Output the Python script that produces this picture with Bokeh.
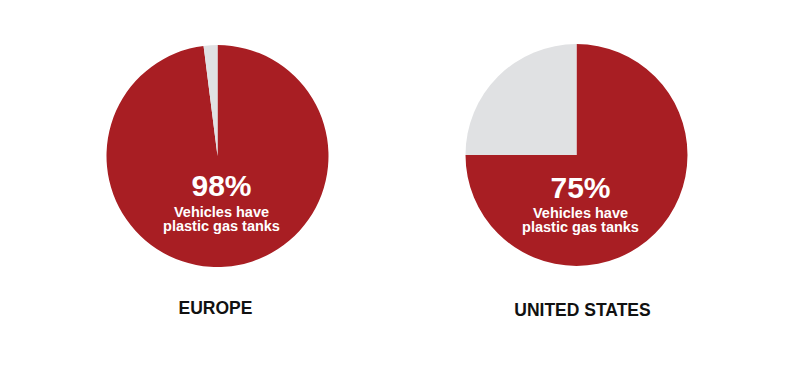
import numpy as np
from bokeh.plotting import figure
from bokeh.models import ColumnDataSource, Range1d
from bokeh.core.properties import value
from bokeh.embed import file_html
from bokeh.resources import INLINE

# Share of vehicles with plastic gas tanks, by region
regions = ["EUROPE", "UNITED STATES"]
plastic_share = [98, 75]
pct_labels = ["98%", "75%"]
caption_line1 = ["Vehicles have", "Vehicles have"]
caption_line2 = ["plastic gas tanks", "plastic gas tanks"]

RED = "#A81E23"
GREY = "#E0E1E3"
FONT = value("Liberation Sans")

W, H = 808, 368

# layout (pixel positions, y measured from the top of the page)
pie_cx = [217, 576]
pie_cy = [155.5, 154.5]
pie_r = 111
pct_base = [185, 187]
line1_base = [211, 212]
line2_base = [225, 226]
text_dx = [4, 4]
label_cx = [215, 582]
label_base = [307, 309]

share = np.array(plastic_share) / 100.0
top = np.pi / 2
src = ColumnDataSource(dict(
    x=pie_cx,
    y=[H - v for v in pie_cy],
    red_start=top - share * 2 * np.pi,
    red_end=np.full(len(share), top),
    grey_end=top + (1 - share) * 2 * np.pi,
    tx=[c + d for c, d in zip(pie_cx, text_dx)],
    pct_y=[H - v for v in pct_base],
    l1_y=[H - v for v in line1_base],
    l2_y=[H - v for v in line2_base],
    pct=pct_labels,
    l1=caption_line1,
    l2=caption_line2,
    lx=label_cx,
    ly=[H - v for v in label_base],
    region=regions,
))

p = figure(width=W, height=H, x_range=Range1d(0, W), y_range=Range1d(0, H),
           x_axis_type=None, y_axis_type=None, output_backend="svg",
           toolbar_location=None, min_border=0)
p.outline_line_color = None
p.grid.visible = False
p.background_fill_color = "white"
p.border_fill_color = "white"

p.wedge(x="x", y="y", radius=pie_r, start_angle="red_start", end_angle="red_end",
        direction="anticlock", fill_color=RED, line_color=None, source=src)
p.wedge(x="x", y="y", radius=pie_r, start_angle="red_end", end_angle="grey_end",
        direction="anticlock", fill_color=GREY, line_color=None, source=src)

p.text(x="tx", y="pct_y", text="pct", text_font=FONT, text_font_style="bold",
       text_font_size="30px", text_color="white", text_align="center",
       text_baseline="alphabetic", source=src)
p.text(x="tx", y="l1_y", text="l1", text_font=FONT, text_font_style="bold",
       text_font_size="14.5px", text_color="white", text_align="center",
       text_baseline="alphabetic", source=src)
p.text(x="tx", y="l2_y", text="l2", text_font=FONT, text_font_style="bold",
       text_font_size="14.5px", text_color="white", text_align="center",
       text_baseline="alphabetic", source=src)
p.text(x="lx", y="ly", text="region", text_font=FONT, text_font_style="bold",
       text_font_size="17.5px", text_color="#111111", text_align="center",
       text_baseline="alphabetic", source=src)

open("out.html", "w").write(file_html(p, INLINE))
